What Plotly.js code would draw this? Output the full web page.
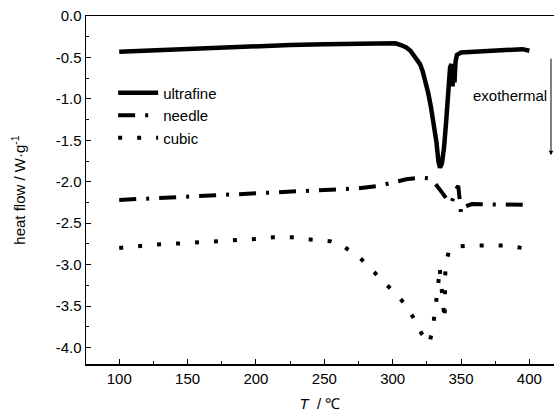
<!DOCTYPE html>
<html>
<head>
<meta charset="utf-8">
<script src="https://cdn.plot.ly/plotly-3.0.1.min.js"></script>
<style>html,body{margin:0;padding:0;background:#fff;}#chart{width:554px;height:412px;}</style>
</head>
<body>
<div id="chart"></div>
<script>
// ultrafine
var ultrafineT = [100,115,130,150,175,200,225,250,275,295,302,306,310,313,316,318,320,322,324,326,328,330,332,333.5,334.6,336,337.5,339,340.5,342,343,343.8,344.5,345.2,346,347,350,360,375,390,395,400];
var ultrafineY = [-0.43,-0.42,-0.40,-0.39,-0.37,-0.36,-0.35,-0.34,-0.34,-0.33,-0.33,-0.35,-0.38,-0.42,-0.48,-0.53,-0.58,-0.67,-0.78,-0.93,-1.10,-1.30,-1.52,-1.76,-1.83,-1.78,-1.60,-1.30,-0.95,-0.62,-0.58,-0.85,-0.60,-0.80,-0.55,-0.47,-0.44,-0.43,-0.42,-0.41,-0.40,-0.42];
// needle
var needleT = [100,125,150,175,200,225,250,275,290,300,310,320,326,330,334,337,340,343,346,348,350,353,358,365,380,400];
var needleY = [-2.22,-2.20,-2.18,-2.16,-2.13,-2.11,-2.10,-2.08,-2.05,-2.01,-1.97,-1.95,-1.96,-2.00,-2.08,-2.15,-2.22,-2.26,-2.10,-2.05,-2.38,-2.30,-2.27,-2.27,-2.27,-2.28];
// cubic
var cubicT = [100,125,150,175,200,213,226,241,255,262,268,275,281,287,293,299,305,310,314,318,321,324,326.9,329.5,331.5,333.3,334.3,336,338,338.2,338.4,338.6,341,344,350,358,373,381,395];
var cubicY = [-2.80,-2.76,-2.74,-2.72,-2.69,-2.67,-2.67,-2.70,-2.72,-2.76,-2.82,-2.90,-3.00,-3.10,-3.19,-3.30,-3.40,-3.50,-3.61,-3.72,-3.83,-3.90,-3.95,-3.75,-3.50,-3.25,-3.03,-3.30,-3.67,-3.45,-3.20,-3.00,-2.85,-2.79,-2.78,-2.77,-2.77,-2.77,-2.80];
// axis ticks
var xTicks = [100,150,200,250,300,350,400];
var yTicks = [0,-0.5,-1,-1.5,-2,-2.5,-3,-3.5,-4];
var yTickText = ['0.0','-0.5','-1.0','-1.5','-2.0','-2.5','-3.0','-3.5','-4.0'];

var FONT = 'Liberation Sans, Arial, sans-serif';
var traces = [
  {x: ultrafineT, y: ultrafineY, name: 'ultrafine', mode: 'lines', line: {color: '#000', width: 4.5}},
  {x: needleT, y: needleY, name: 'needle', mode: 'lines', line: {color: '#000', width: 4, dash: '17px,10px,3px,10px'}},
  {x: cubicT, y: cubicY, name: 'cubic', mode: 'lines', line: {color: '#000', width: 4, dash: '4px,15px'}}
];
var layout = {
  width: 554, height: 412,
  margin: {l: 86, r: 0, t: 16, b: 48},
  paper_bgcolor: '#fff', plot_bgcolor: '#fff',
  font: {family: FONT, size: 15, color: '#000'},
  showlegend: true,
  legend: {x: 0.058, y: 0.826, xanchor: 'left', yanchor: 'top', bgcolor: 'rgba(0,0,0,0)', borderwidth: 0, font: {size: 15}, tracegroupgap: 0, itemwidth: 40},
  xaxis: {range: [75.7, 418], tickvals: xTicks, ticktext: xTicks.map(String), ticks: 'inside', ticklen: 5, tickwidth: 1, tickcolor: '#000',
    showline: true, linecolor: '#000', linewidth: 1.5, mirror: true, showgrid: false, zeroline: false, automargin: false,
    minor: {dtick: 25, tick0: 75, ticks: 'inside', ticklen: 3, tickcolor: '#000', showgrid: false},
    title: {text: '<i>T</i>  / ℃', font: {size: 15}, standoff: 14}},
  yaxis: {range: [-4.2, 0], tickvals: yTicks, ticktext: yTickText, ticks: 'inside', ticklen: 5, tickwidth: 1, tickcolor: '#000',
    showline: true, linecolor: '#000', linewidth: 1.5, mirror: false, showgrid: false, zeroline: false, automargin: false,
    minor: {dtick: 0.25, tick0: 0, ticks: 'inside', ticklen: 3, tickcolor: '#000', showgrid: false},
    title: {text: 'heat flow / W·g<sup>-1</sup>', font: {size: 15}, standoff: 26}},
  annotations: [
    {xref: 'paper', yref: 'y', x: 0.99, y: -0.955, text: 'exothermal', showarrow: false, xanchor: 'right', yanchor: 'middle', font: {size: 15}},
    {xref: 'paper', yref: 'y', x: 0.9936, y: -1.68, ax: 0, ay: -98, text: '', showarrow: true, arrowhead: 2, arrowsize: 0.9, arrowwidth: 1, arrowcolor: '#000'}
  ]
};
Plotly.newPlot('chart', traces, layout, {displayModeBar: false, staticPlot: true});
</script>
</body>
</html>
